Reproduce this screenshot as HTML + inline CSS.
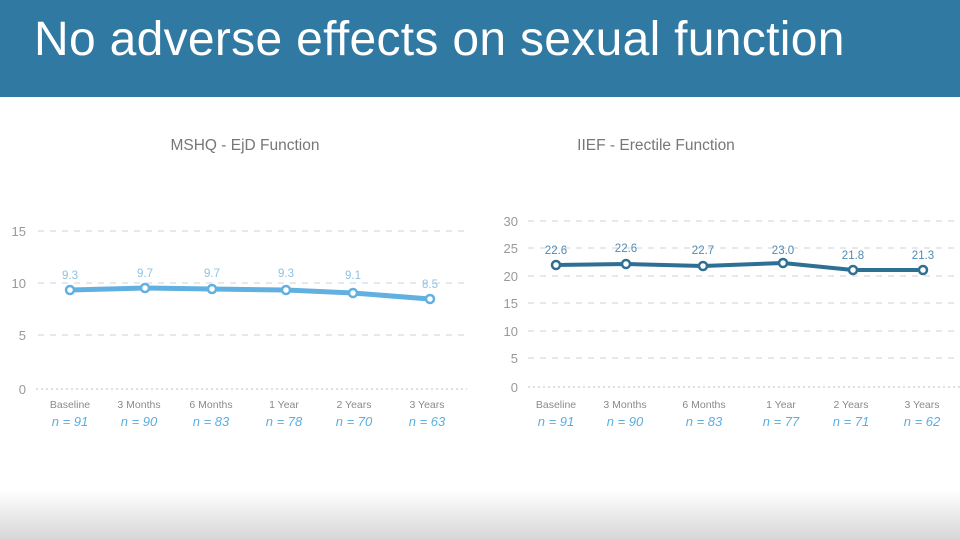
<!DOCTYPE html>
<html><head><style>
body{margin:0;width:960px;height:540px;overflow:hidden;background:#fff;font-family:"Liberation Sans",sans-serif;position:relative}
.hdr{position:absolute;left:0;top:0;width:960px;height:97px;background:#2f79a2}
.hdr div{position:absolute;left:34px;top:16px;color:#fff;font-size:48px;line-height:1;letter-spacing:0.3px}
.foot{position:absolute;left:0;top:490px;width:960px;height:50px;background:linear-gradient(#fff,#d6d6d6)}
</style></head><body>
<div class="hdr"><div>No adverse effects on sexual function</div></div>
<div class="foot"></div>
<svg width="960" height="540" style="position:absolute;left:0;top:0" font-family="Liberation Sans, sans-serif">
<g fill="#777" font-size="15.5" text-anchor="middle">
<text x="245" y="150">MSHQ - EjD Function</text>
<text x="656" y="150">IIEF - Erectile Function</text>
</g>
<g stroke="#d8dbe3" stroke-width="1.3" stroke-dasharray="6,6">
<line x1="38" y1="231" x2="467" y2="231"/><line x1="38" y1="283" x2="467" y2="283"/><line x1="38" y1="335" x2="467" y2="335"/>
<line x1="528" y1="221" x2="960" y2="221"/><line x1="528" y1="248" x2="960" y2="248"/><line x1="528" y1="276" x2="960" y2="276"/><line x1="528" y1="303" x2="960" y2="303"/><line x1="528" y1="331" x2="960" y2="331"/><line x1="528" y1="358" x2="960" y2="358"/>
</g>
<g stroke="#c8ccd4" stroke-width="1.3" stroke-dasharray="2,3">
<line x1="36" y1="389" x2="467" y2="389"/><line x1="528" y1="387" x2="960" y2="387"/>
</g>
<g fill="#999" font-size="13" text-anchor="end">
<text x="26" y="236">15</text><text x="26" y="288">10</text><text x="26" y="340">5</text><text x="26" y="394">0</text>
<text x="518" y="226">30</text><text x="518" y="253">25</text><text x="518" y="281">20</text><text x="518" y="308">15</text><text x="518" y="336">10</text><text x="518" y="363">5</text><text x="518" y="392">0</text>
</g>
<polyline points="70,290 145,288 212,289 286,290 353,293 430,299" fill="none" stroke="#62b0e0" stroke-width="5" stroke-linejoin="round"/>
<g fill="#fff" stroke="#62b0e0" stroke-width="2.5">
<circle cx="70" cy="290" r="4"/><circle cx="145" cy="288" r="4"/><circle cx="212" cy="289" r="4"/><circle cx="286" cy="290" r="4"/><circle cx="353" cy="293" r="4"/><circle cx="430" cy="299" r="4"/>
</g>
<g fill="#8cc3e6" font-size="11.5" text-anchor="middle">
<text x="70" y="279">9.3</text><text x="145" y="277">9.7</text><text x="212" y="277">9.7</text><text x="286" y="277">9.3</text><text x="353" y="279">9.1</text><text x="430" y="288">8.5</text>
</g>
<polyline points="556,265 626,264 703,266 783,263 853,270 923,270" fill="none" stroke="#2e6f94" stroke-width="4" stroke-linejoin="round"/>
<g fill="#fff" stroke="#2e6f94" stroke-width="2.5">
<circle cx="556" cy="265" r="4"/><circle cx="626" cy="264" r="4"/><circle cx="703" cy="266" r="4"/><circle cx="783" cy="263" r="4"/><circle cx="853" cy="270" r="4"/><circle cx="923" cy="270" r="4"/>
</g>
<g fill="#4f8cb3" font-size="11.5" text-anchor="middle">
<text x="556" y="254">22.6</text><text x="626" y="252">22.6</text><text x="703" y="254">22.7</text><text x="783" y="254">23.0</text><text x="853" y="259">21.8</text><text x="923" y="259">21.3</text>
</g>
<g fill="#8a8a8a" font-size="10.5" text-anchor="middle">
<text x="70" y="408">Baseline</text><text x="139" y="408">3 Months</text><text x="211" y="408">6 Months</text><text x="284" y="408">1 Year</text><text x="354" y="408">2 Years</text><text x="427" y="408">3 Years</text>
<text x="556" y="408">Baseline</text><text x="625" y="408">3 Months</text><text x="704" y="408">6 Months</text><text x="781" y="408">1 Year</text><text x="851" y="408">2 Years</text><text x="922" y="408">3 Years</text>
</g>
<g fill="#5aaee0" font-size="13" font-style="italic" text-anchor="middle">
<text x="70" y="426">n = 91</text><text x="139" y="426">n = 90</text><text x="211" y="426">n = 83</text><text x="284" y="426">n = 78</text><text x="354" y="426">n = 70</text><text x="427" y="426">n = 63</text>
<text x="556" y="426">n = 91</text><text x="625" y="426">n = 90</text><text x="704" y="426">n = 83</text><text x="781" y="426">n = 77</text><text x="851" y="426">n = 71</text><text x="922" y="426">n = 62</text>
</g>
</svg>
</body></html>
